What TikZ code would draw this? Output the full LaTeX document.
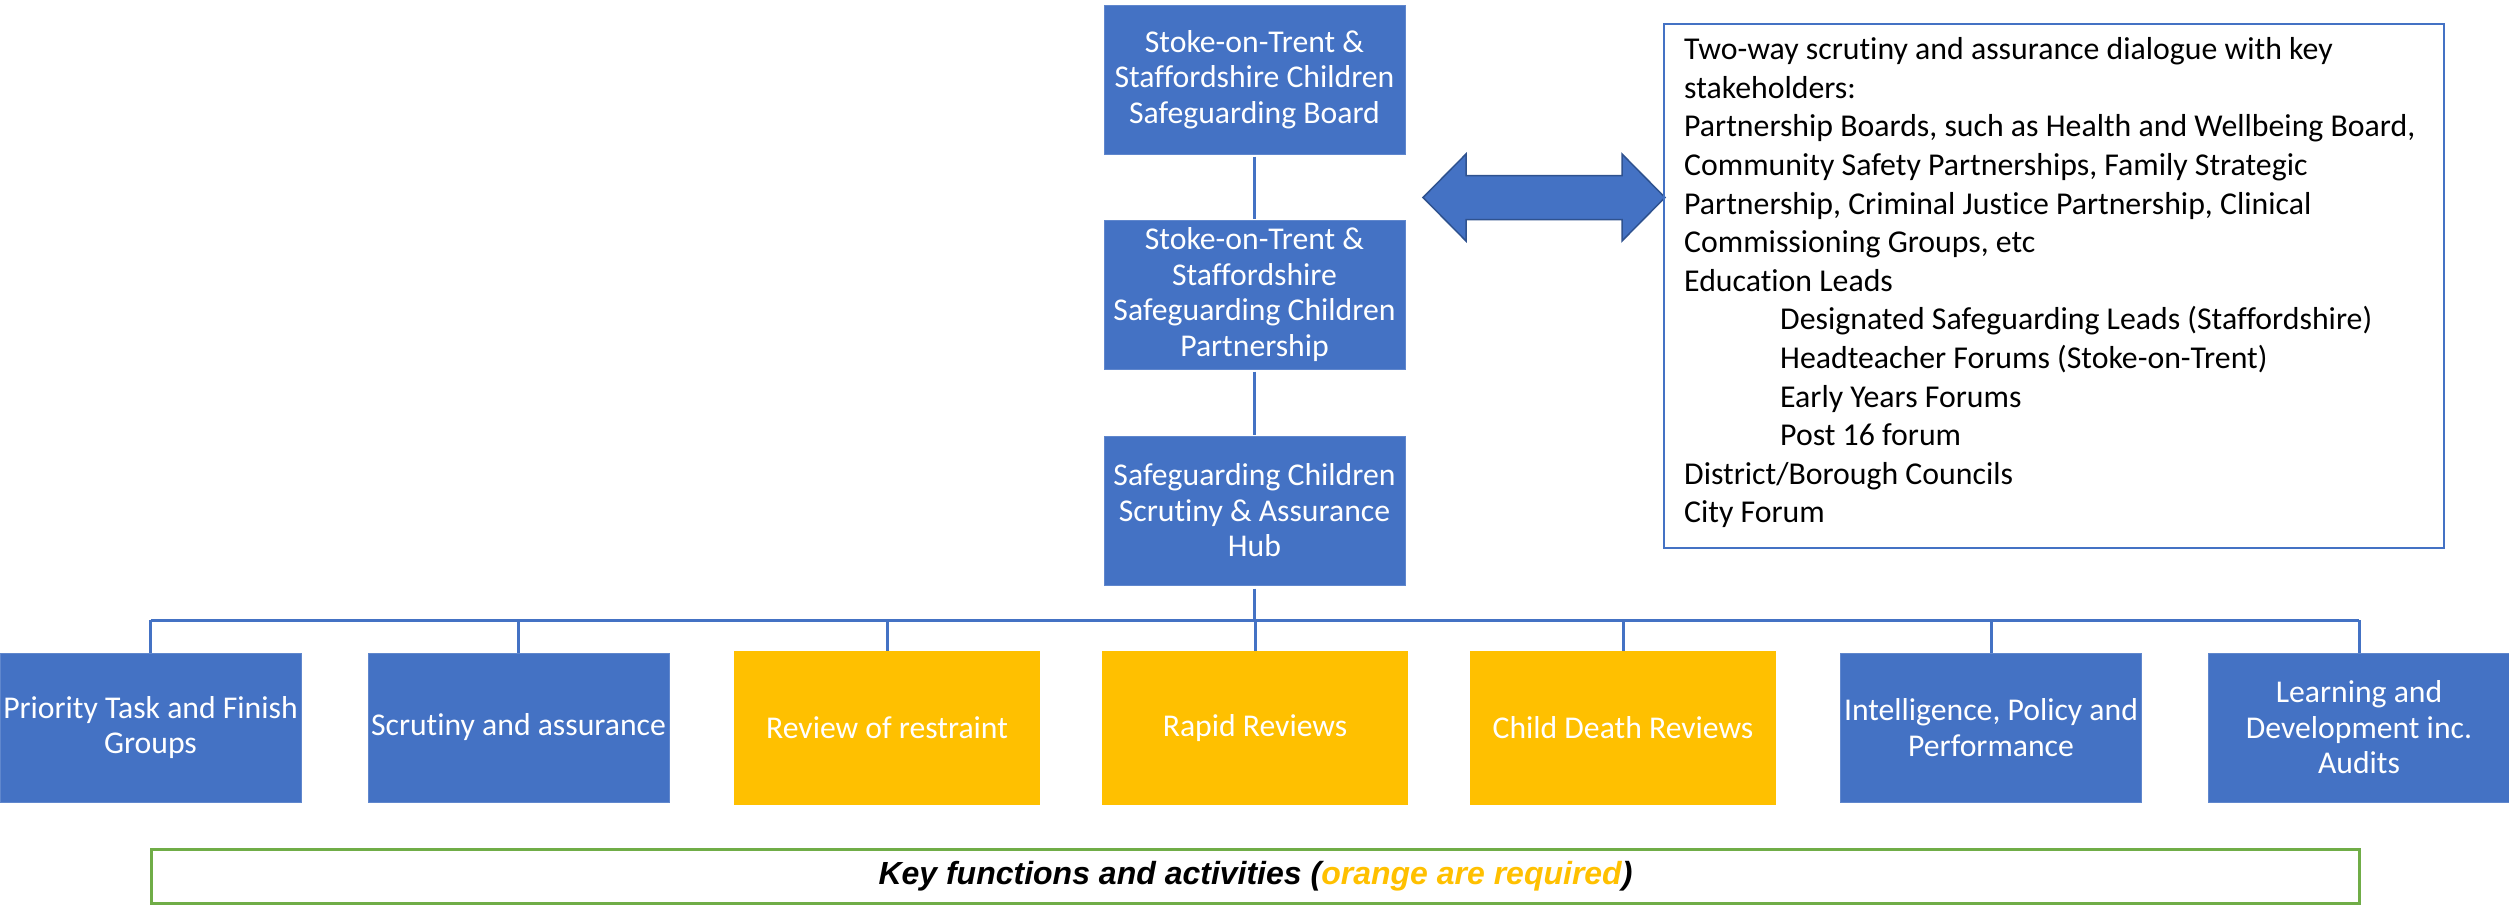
\documentclass[tikz,border=0pt]{standalone}
\usepackage{fontspec}
\setmainfont{Carlito}[Ligatures=NoCommon]
\newfontfamily\arialfont{Liberation Sans}
\definecolor{boxblue}{HTML}{4472C4}
\definecolor{edgeblue}{HTML}{2F528F}
\definecolor{boxorange}{HTML}{FFC000}
\definecolor{boxgreen}{HTML}{70AD47}
\begin{document}
\begin{tikzpicture}[x=1pt,y=-1pt,
  bluebox/.style={rectangle, fill=boxblue, draw=boxblue!85!white, line width=1pt, inner sep=0pt,
    minimum width=301pt, minimum height=149pt, align=center, text=white,
    font=\fontsize{31.7}{35.5}\selectfont},
  orangebox/.style={bluebox, fill=boxorange, draw=none, minimum width=306pt, minimum height=154pt},
  conn/.style={draw=boxblue, line width=3pt},
  infotext/.style={anchor=north west, inner sep=0pt, align=left, text=black,
    font=\fontsize{31.8}{38.6}\selectfont}
]
\useasboundingbox (0,0) rectangle (2509,908);

% top column
\node[bluebox] (board) at (1254.5,79.5) {Stoke-on-Trent \&\\Staffordshire Children\\Safeguarding Board};
\node[bluebox] (partner) at (1254.5,294.5) {Stoke-on-Trent \&\\Staffordshire\\Safeguarding Children\\Partnership};
\node[bluebox] (hub) at (1254.5,510.5) {Safeguarding Children\\Scrutiny \& Assurance\\Hub};

\draw[conn, shorten <=2pt, shorten >=1pt] (board.south) -- (partner.north);
\draw[conn, shorten <=2pt, shorten >=1pt] (partner.south) -- (hub.north);

% bottom row
\node[bluebox] (f1) at (150.5,727.5) {Priority Task and Finish\\Groups};
\node[bluebox] (f2) at (518.5,727.5) {Scrutiny and assurance};
\node[orangebox] (f3) at (887,728) {Review of restraint};
\node[orangebox] (f4) at (1255,728) {Rapid Reviews};
\node[orangebox] (f5) at (1623,728) {Child Death Reviews};
\node[bluebox] (f6) at (1991,727.5) {Intelligence, Policy and\\Performance};
\node[bluebox] (f7) at (2359,727.5) {Learning and\\Development inc.\\Audits};

\coordinate (busy) at (0,620);
\draw[conn, shorten <=3pt] (hub.south) -- (hub.south |- busy);
\draw[conn] (f1.north |- busy) -- (f7.north |- busy);
\foreach \n in {f1,f2,f3,f4,f5,f6,f7}{
  \draw[conn] (\n.north |- busy) -- (\n.north);
}

% double arrow
\filldraw[fill=boxblue, draw=edgeblue, line width=1.5pt, line join=miter]
  (1423,197.5) -- (1466,154) -- (1466,175.5) -- (1622,175.5) -- (1622,154) -- (1665,197.5)
  -- (1622,241) -- (1622,219.5) -- (1466,219.5) -- (1466,241) -- cycle;

% stakeholder box
\draw[draw=boxblue, line width=2pt] (1664,24.3) rectangle (2443.7,548);
\node[infotext] (info) at (1684,37.5) {%
Two-way scrutiny and assurance dialogue with key\\
stakeholders:\\
Partnership Boards, such as Health and Wellbeing Board,\\
Community Safety Partnerships, Family Strategic\\
Partnership, Criminal Justice Partnership, Clinical\\
Commissioning Groups, etc\\
Education Leads\\
\hspace*{96pt}Designated Safeguarding Leads (Staffordshire)\\
\hspace*{96pt}Headteacher Forums (Stoke-on-Trent)\\
\hspace*{96pt}Early Years Forums\\
\hspace*{96pt}Post 16 forum\\
District/Borough Councils\\
City Forum};

% key
\node[draw=boxgreen, line width=3pt, rectangle, inner sep=0pt,
  minimum width=2208pt, minimum height=54pt,
  font=\arialfont\bfseries\itshape\fontsize{32}{38}\selectfont] (key) at (1255.5,876)
  {Key functions and activities (\textcolor{boxorange}{orange are required})};
\end{tikzpicture}
\end{document}
